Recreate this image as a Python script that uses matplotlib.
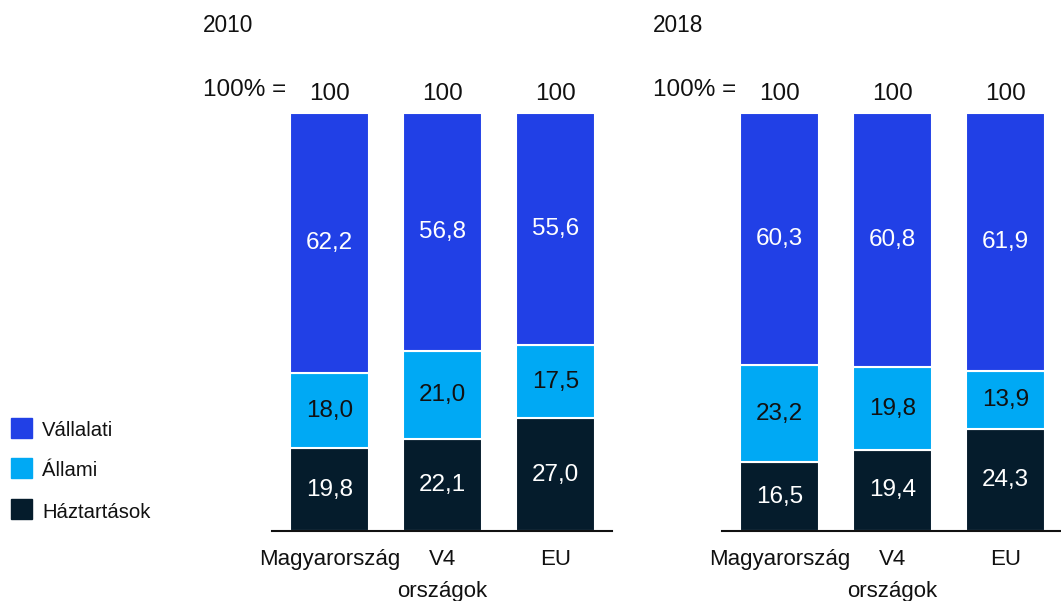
import matplotlib
matplotlib.use("Agg")
import matplotlib.pyplot as plt
import numpy as np

plt.rcParams['font.family'] = ['Liberation Sans', 'DejaVu Sans']

# data
categories = ['Magyarország', 'V4\nországok', 'EU']
years = ['2010', '2018']
totals = [100, 100, 100]
haztartasok = {'2010': [19.8, 22.1, 27.0], '2018': [16.5, 19.4, 24.3]}
allami = {'2010': [18.0, 21.0, 17.5], '2018': [23.2, 19.8, 13.9]}
vallalati = {'2010': [62.2, 56.8, 55.6], '2018': [60.3, 60.8, 61.9]}
series_names = ['Vállalati', 'Állami', 'Háztartások']

C_VALL = '#2140E6'
C_ALL = '#00A9F4'
C_HAZ = '#051C2C'
TXT = '#111111'

W, H = 1061, 601
fig = plt.figure(figsize=(W / 100, H / 100), dpi=100)

base_y = 531
top_y = 113
panels = [(272, 612, '2010'), (722, 1061, '2018')]

for x0, x1, yr in panels:
    ax = fig.add_axes([x0 / W, 1 - base_y / H, (x1 - x0) / W, (base_y - top_y) / H])
    x = np.arange(len(categories))
    # first bar center sits 57.5 px right of the axis start, bars 113 px apart
    xmin = -57.5 / 113
    xmax = xmin + (x1 - x0) / 113
    ax.set_xlim(xmin, xmax)
    ax.set_ylim(0, 100)
    h = np.array(haztartasok[yr])
    a = np.array(allami[yr])
    v = np.array(vallalati[yr])
    kw = dict(width=0.7, edgecolor='white', linewidth=1.5)
    ax.bar(x, h, color=C_HAZ, **kw)
    ax.bar(x, a, bottom=h, color=C_ALL, **kw)
    ax.bar(x, v, bottom=h + a, color=C_VALL, **kw)
    for i in range(len(x)):
        ax.text(x[i], h[i] / 2, f"{h[i]:.1f}".replace('.', ','), ha='center', va='center',
                color='white', fontsize=17.5)
        ax.text(x[i], h[i] + a[i] / 2, f"{a[i]:.1f}".replace('.', ','), ha='center', va='center',
                color=TXT, fontsize=17.5)
        ax.text(x[i], h[i] + a[i] + v[i] / 2, f"{v[i]:.1f}".replace('.', ','), ha='center',
                va='center', color='white', fontsize=17.5)
        ax.text(x[i], 104.5, str(totals[i]), ha='center', va='center', fontsize=17.5,
                color=TXT)
    for s in ['top', 'right', 'left']:
        ax.spines[s].set_visible(False)
    ax.spines['bottom'].set_linewidth(1.5)
    ax.spines['bottom'].set_color(TXT)
    ax.set_yticks([])
    ax.set_xticks(x)
    ax.set_xticklabels(categories, fontsize=16, color=TXT, linespacing=1.7)
    ax.tick_params(axis='x', length=0, pad=13)

    fig.text((x0 - 69) / W, 1 - 25 / H, yr, fontsize=16.3, ha='left', va='center', color=TXT)
    fig.text((x0 - 69) / W, 1 - 90 / H, '100% =', fontsize=17.5, ha='left', va='center',
             color=TXT)

# legend
leg_colors = [C_VALL, C_ALL, C_HAZ]
leg_y = [428, 468, 509]
for name, col, y in zip(series_names, leg_colors, leg_y):
    fig.patches.append(plt.Rectangle((11 / W, 1 - (y + 10) / H), 21 / W, 20 / H,
                                     transform=fig.transFigure, color=col, figure=fig))
    fig.text(42 / W, 1 - (y + 3) / H, name, fontsize=14.6, ha='left', va='center', color=TXT)

fig.savefig('out.png', dpi=100)
